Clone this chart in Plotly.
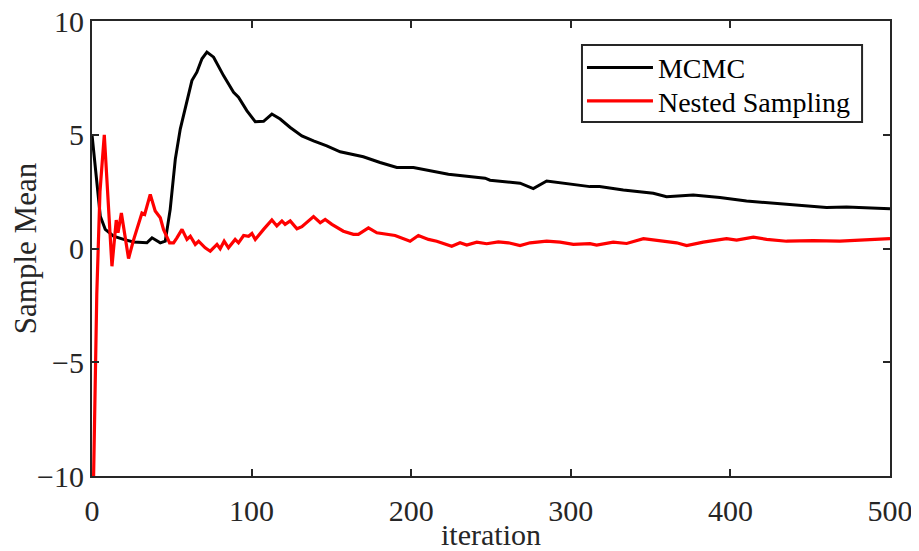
import plotly.graph_objects as go

mcmc_x = [0, 5.2, 8.3, 13.5, 19.8, 26, 34.4, 37.6, 42.8, 45.9, 49, 52.2, 55.3, 59.5, 62.6, 65.7, 68.9, 72, 76.2,
          82.4, 88.7, 91.8, 97, 102.3, 107.5, 112.7, 117.9, 124.2, 131.5, 138.8, 147.1, 155.5, 170, 180.5,
          191, 201.4, 223.3, 246.3, 249.4, 268.2, 276.5, 284.9, 297.4, 312, 318, 332.9, 351.7, 360, 376.7,
          393.4, 410.1, 431, 460.2, 472.8, 500]
mcmc_y = [5.0, 1.42, 0.84, 0.54, 0.4, 0.29, 0.25, 0.47, 0.25, 0.32, 1.72, 3.93, 5.25, 6.43, 7.38, 7.75, 8.34, 8.63, 8.41,
          7.6, 6.87, 6.65, 6.06, 5.57, 5.59, 5.91, 5.69, 5.32, 4.95, 4.73, 4.51, 4.25, 4.03, 3.78,
          3.56, 3.56, 3.26, 3.09, 3.0, 2.87, 2.63, 2.97, 2.87, 2.72, 2.72, 2.57, 2.43, 2.28, 2.35,
          2.24, 2.09, 1.97, 1.8, 1.82, 1.75]

ns_x = [1, 3, 5, 7.7, 12.5, 15.2, 16.3, 18.4, 22.9, 26, 31.3, 33, 36.5, 39.6, 42.8, 44.8, 48.6, 51.1, 53.2, 56.4,
        59.5, 61.6, 64.7, 66.8, 70.9, 74.1, 78.3, 80.3, 82.8, 85.5, 89.7, 91.8, 95, 98.1, 100.2, 102.3, 107.5,
        112.7, 115.8, 119, 121, 124.2, 128.4, 131.5, 138.8, 143, 146.1, 150.3, 157.5, 163.8, 166.9, 173.2,
        178.5, 184.7, 189.9, 199.3, 204.5, 210.8, 216, 225.4, 230.6, 234.8, 241.1, 247.3, 254.6, 260.9,
        268.2, 274.5, 284.9, 293.3, 301.6, 312, 316.2, 326.6, 335, 345.5, 353.8, 366.3, 372.6, 383,
        397.6, 403.9, 414.4, 422.7, 435.2, 451.9, 468.6, 483.3, 500]
ns_y = [-10.0, -2.0, 2.5, 5.0, -0.78, 1.25, 0.69, 1.56, -0.44, 0.37, 1.56, 1.5, 2.38, 1.65, 1.35, 0.84, 0.25, 0.25, 0.47, 0.84,
        0.4, 0.54, 0.18, 0.32, 0.03, -0.12, 0.18, -0.01, 0.32, 0.03, 0.4, 0.25, 0.57, 0.54, 0.66, 0.4, 0.84,
        1.25, 0.99, 1.21, 1.06, 1.21, 0.87, 0.96, 1.4, 1.13, 1.28, 1.06, 0.76, 0.62, 0.62, 0.91,
        0.69, 0.62, 0.57, 0.32, 0.57, 0.4, 0.32, 0.1, 0.25, 0.15, 0.28, 0.21, 0.29, 0.25,
        0.13, 0.25, 0.32, 0.28, 0.18, 0.21, 0.15, 0.28, 0.22, 0.43, 0.37, 0.25, 0.13, 0.28,
        0.43, 0.37, 0.5, 0.4, 0.32, 0.35, 0.32, 0.37, 0.43]

x_ticks = [0, 100, 200, 300, 400, 500]
y_ticks = [-10, -5, 0, 5, 10]

FONT = "Liberation Serif, Times New Roman, serif"
TXT = "#262626"

fig = go.Figure()
fig.add_trace(go.Scatter(x=mcmc_x, y=mcmc_y, mode="lines", name="MCMC", legend="legend",
                         line=dict(color="black", width=3)))
fig.add_trace(go.Scatter(x=ns_x, y=ns_y, mode="lines", name="Nested Sampling", legend="legend2",
                         line=dict(color="#ff0000", width=3.2)))

axis_common = dict(showgrid=False, zeroline=False, showline=True, linecolor=TXT, linewidth=2,
                   mirror="allticks", ticks="inside", ticklen=7, tickwidth=1.5, tickcolor=TXT,
                   ticklabeloverflow="allow",
                   tickfont=dict(family=FONT, size=30, color=TXT))

fig.update_xaxes(range=[0, 500], tickvals=x_ticks, ticklabelstandoff=7,
                 title=dict(text="iteration", standoff=0,
                            font=dict(family=FONT, size=30, color=TXT)), **axis_common)
fig.update_yaxes(range=[-10, 10], tickvals=y_ticks,
                 title=dict(text="Sample Mean", standoff=2,
                            font=dict(family=FONT, size=31, color=TXT)), **axis_common)

# legend frame
fig.add_shape(type="rect", xref="paper", yref="paper", x0=0.614, x1=0.965, y0=0.778, y1=0.947,
              line=dict(color=TXT, width=2), fillcolor="white", layer="below")

leg_common = dict(xanchor="left", yanchor="middle", bgcolor="rgba(0,0,0,0)", borderwidth=0,
                  font=dict(family=FONT, size=28, color="black"), itemwidth=66)

fig.update_layout(
    width=911, height=543,
    margin=dict(l=84, r=29, t=13, b=75, autoexpand=False),
    plot_bgcolor="white", paper_bgcolor="white",
    font=dict(family=FONT, size=30, color=TXT),
    legend=dict(x=0.614, y=0.897, **leg_common),
    legend2=dict(x=0.614, y=0.824, **leg_common),
    showlegend=True,
)

fig.write_html("out.html")
